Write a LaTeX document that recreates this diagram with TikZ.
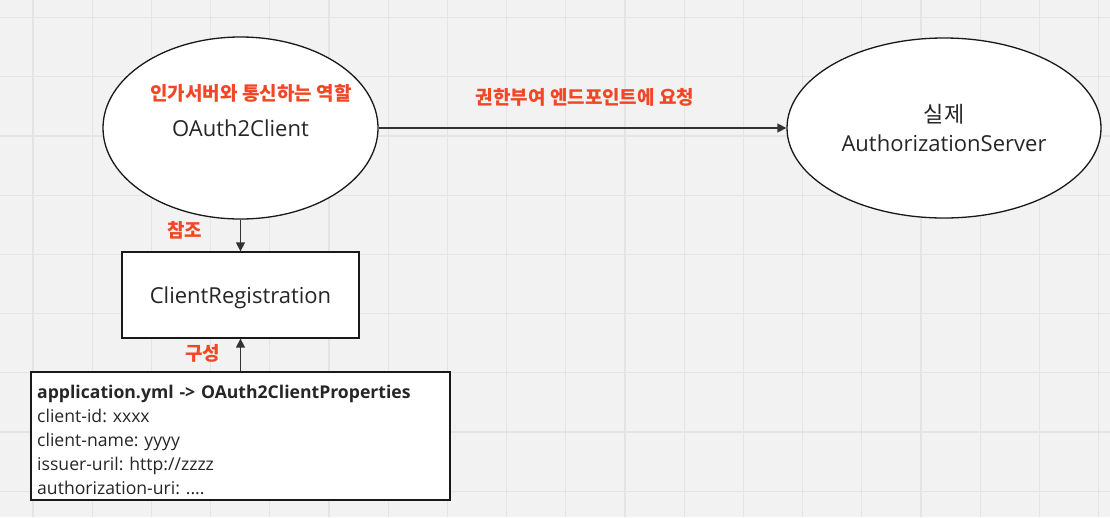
\documentclass[tikz,border=0pt]{standalone}
\usepackage{fontspec}
\setmainfont{Open Sans}
\newfontfamily\cjk{Noto Sans CJK KR}
\usetikzlibrary{shapes.geometric,arrows.meta}
\definecolor{bg}{HTML}{F2F2F2}
\definecolor{gridc}{HTML}{E4E4E4}
\definecolor{redlbl}{HTML}{F24726}
\definecolor{linec}{HTML}{333333}
\tikzset{
  shapebox/.style={draw=black!90, line width=1.3pt, fill=white, inner sep=0pt, font=\fontsize{22}{29}\selectfont, text=black!85},
  conn/.style={draw=linec, line width=1.4pt, -{Triangle[length=9pt,width=9pt]}},
  redtext/.style={text=redlbl, font=\cjk\bfseries\fontsize{19}{23}\selectfont, inner sep=0pt}
}
\begin{document}
\frenchspacing
\begin{tikzpicture}[x=1pt,y=-1pt]
\fill[bg] (0,0) rectangle (1110,517);
\useasboundingbox (0,0) rectangle (1110,517);
\foreach \i in {0,...,18} {\draw[gridc, line width=1.2pt] ({33+59.2*\i},0) -- ({33+59.2*\i},517);}
\foreach \j in {0,...,8} {\draw[gridc, line width=1.2pt] (0,{17.5+59.2*\j}) -- (1110,{17.5+59.2*\j});}
\node[shapebox, ellipse, minimum width=275pt, minimum height=182pt] (oc) at (240.5,128) {OAuth2Client};
\node[redtext] (ocl) at (251,93) {인가서버와 통신하는 역할};
\node[shapebox, ellipse, minimum width=314pt, minimum height=180pt, align=center] (as) at (944,128) {{\cjk 실제}\\AuthorizationServer};
\node[shapebox, rectangle, minimum width=237pt, minimum height=86pt, text depth=0pt] (cr) at (240.5,295) {ClientRegistration};
\node[shapebox, rectangle, minimum width=419pt, minimum height=128pt] (props) at (240.5,436) {};
\node[anchor=north west, inner sep=0pt, text width=407pt, align=left, font=\fontsize{17.6}{24}\selectfont, text=black!85] (propstext) at (37,385)
  {\textbf{application.yml -> OAuth2ClientProperties}\\client-id: xxxx\\client-name: yyyy\\issuer-uril: http://zzzz\\authorization-uri: ....};
\draw[conn] (oc.south) -- (cr.north);
\draw[conn] (props.north) -- (cr.south);
\draw[conn] (oc.east) -- (as.west);
\node[redtext] (ref) at (184.5,230) {참조};
\node[redtext] (cfg) at (202.5,353) {구성};
\node[redtext] (req) at (585,97) {권한부여 엔드포인트에 요청};
\end{tikzpicture}
\end{document}
